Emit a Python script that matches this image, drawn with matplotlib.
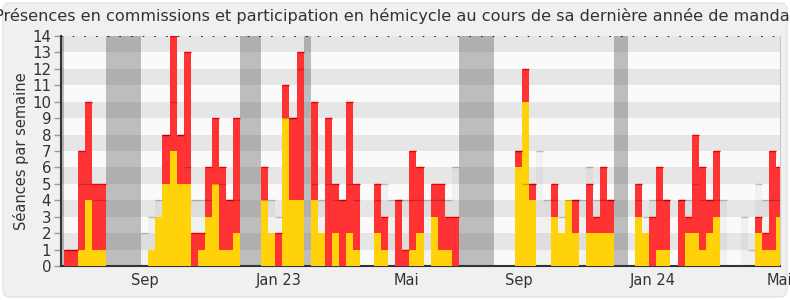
import matplotlib
matplotlib.use("Agg")
import matplotlib.pyplot as plt
from matplotlib.patches import FancyBboxPatch
import numpy as np

# ---- data (one entry per week) ----
total_seances = [1, 1, 7, 10, 5, 5, 0, 0, 0, 0, 0, 0, 1, 3, 8, 14, 8, 13, 2, 2,
                 6, 9, 6, 4, 9, 0, 0, 0, 6, 2, 2, 11, 9, 13, 0, 10, 2, 9, 5, 4,
                 10, 5, 0, 0, 5, 3, 0, 4, 1, 7, 6, 0, 5, 5, 3, 3, 0, 0, 0, 0,
                 0, 0, 0, 0, 7, 12, 5, 0, 0, 5, 2, 4, 4, 0, 5, 3, 6, 4, 0, 0,
                 0, 5, 2, 3, 6, 4, 0, 4, 3, 8, 6, 4, 7, 0, 0, 0, 0, 0, 3, 2,
                 7, 6]
hemicycle = [0, 0, 1, 4, 1, 1, 0, 0, 0, 0, 0, 0, 1, 3, 5, 7, 5, 5, 0, 1,
             3, 5, 1, 1, 2, 0, 0, 0, 4, 2, 0, 9, 4, 4, 0, 4, 2, 0, 2, 0,
             2, 1, 0, 0, 2, 1, 0, 0, 0, 1, 2, 0, 3, 1, 1, 0, 0, 0, 0, 0,
             0, 0, 0, 0, 6, 10, 4, 0, 0, 3, 2, 4, 2, 0, 2, 2, 2, 2, 0, 0,
             0, 3, 2, 0, 1, 1, 0, 0, 2, 2, 1, 2, 3, 0, 0, 0, 0, 0, 2, 1,
             1, 3]
commissions = [t - h for t, h in zip(total_seances, hemicycle)]
mediane = [1, 1, 5, 5, 4, 4, 0, 0, 0, 0, 0, 2, 3, 4, 8, 10, 8, 6, 4, 4,
           4, 5, 5, 4, 4, 0, 0, 0, 4, 4, 3, 9, 9, 12, 0, 5, 4, 5, 4, 4,
           5, 4, 0, 0, 4, 5, 4, 4, 4, 4, 4, 4, 4, 4, 4, 6, 0, 0, 0, 0,
           0, 0, 0, 0, 7, 5, 5, 7, 4, 4, 3, 4, 4, 4, 6, 4, 4, 4, 0, 0,
           0, 4, 3, 4, 4, 4, 0, 4, 4, 5, 4, 4, 4, 4, 0, 0, 3, 1, 5, 4,
           4, 4]
vacances = [(-1, 0), (6, 11), (25, 28), (34, 35), (56, 61), (78, 80)]
mois_labels = ["Sep", "Jan 23", "Mai", "Sep", "Jan 24", "Mai"]
mois_pos = [11.46, 30.52, 48.52, 64.54, 83.52, 101.38]
titre = "Présences en commissions et participation en hémicycle au cours de sa dernière année de mandat"

weeks = np.arange(len(total_seances))

fig = plt.figure(figsize=(7.9, 3.0), dpi=100)
fig.patch.set_facecolor("white")
bg = FancyBboxPatch((0.03, 0.03), 7.84, 2.94,
                    boxstyle="round,pad=0,rounding_size=0.07",
                    transform=fig.dpi_scale_trans, facecolor="#f0f0f0",
                    edgecolor="#e4e4e4", linewidth=1.0, zorder=-10)
fig.patches.append(bg)

ax = fig.add_axes([61/790, 34/300, (780-61)/790, (266-36)/300])
ax.set_facecolor("#fafafa")
ax.set_xlim(-0.38, 101.52)
ax.set_ylim(0, 14)

for k in range(1, 14, 2):
    ax.axhspan(k, k + 1, color="#e6e6e6", lw=0, zorder=0)

for a, b in vacances:
    ax.axvspan(a, b, color="#323232", alpha=0.3, lw=0, zorder=1)

# median bars (light) behind
ax.bar(weeks, mediane, width=1, align="edge", color="black", alpha=0.035,
       lw=0, zorder=2)

ax.bar(weeks, hemicycle, width=1, align="edge", color="#ffd20a", lw=0, zorder=3)
ax.bar(weeks, commissions, bottom=hemicycle, width=1, align="edge",
       color="#ff3333", lw=0, zorder=3)

# red bar top edges
for w, t, h in zip(weeks, total_seances, hemicycle):
    if t > h:
        ax.hlines(t, w, w + 1, color="#ee0000", lw=1, zorder=4)

# median top lines
for w, m in zip(weeks, mediane):
    if m > 0:
        ax.hlines(m, w, w + 1, color="black", alpha=0.22, lw=1, zorder=5)

ax.axhline(14, color="black", lw=1.2, linestyle=(0, (1, 6)), zorder=6)

ax.spines["top"].set_visible(False)
ax.spines["right"].set_color("#c8c8c8")
ax.spines["left"].set_color("#333333")
ax.spines["bottom"].set_color("#333333")
ax.spines["left"].set_linewidth(1.5)
ax.spines["bottom"].set_linewidth(1.5)

ax.set_yticks(range(0, 15))
ax.tick_params(axis="y", length=5, width=1, color="#999999",
               labelsize=10.8, labelcolor="#333333", pad=2)
ax.set_xticks(mois_pos)
ax.set_xticklabels(mois_labels)
ax.tick_params(axis="x", length=0, labelsize=10.5, labelcolor="#333333", pad=5)

ax.set_ylabel("Séances par semaine", fontsize=10.5, color="#333333", labelpad=2)

fig.text(0.5, 1 - 16/300, titre, ha="center", va="center",
         fontsize=11.65, color="#333333")

fig.savefig("out.png", dpi=100)
